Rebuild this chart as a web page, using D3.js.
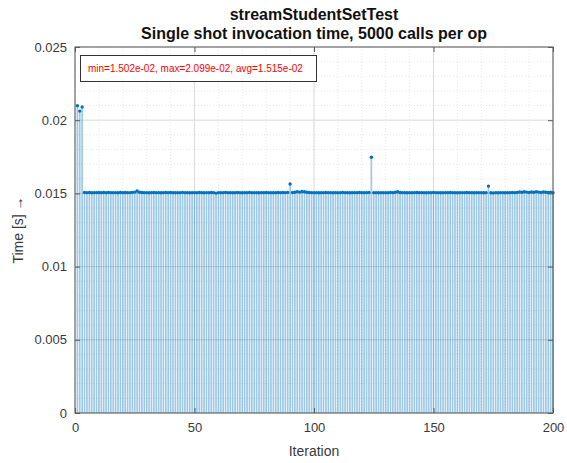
<!DOCTYPE html>
<html>
<head>
<meta charset="utf-8">
<script src="https://cdn.jsdelivr.net/npm/d3@7/dist/d3.min.js"></script>
<style>
  html, body { margin: 0; padding: 0; background: #ffffff; }
  svg { display: block; font-family: "Liberation Sans", Arial, Helvetica, sans-serif; }
</style>
</head>
<body>
<svg id="chart" width="567" height="463"></svg>
<script>
// Single shot invocation time per iteration (seconds), iterations 1..200
const iterations = d3.range(1, 201);
const times = [
  0.02099, 0.02062, 0.02091, 0.01506, 0.01505, 0.01506, 0.01504, 0.01505, 0.01505, 0.01506,
  0.01505, 0.01506, 0.01504, 0.01506, 0.01505, 0.01505, 0.01505, 0.01504, 0.01506, 0.01505,
  0.01506, 0.01505, 0.01505, 0.01507, 0.01509, 0.01516, 0.01508, 0.01506, 0.01505, 0.01505,
  0.01504, 0.01505, 0.01506, 0.01505, 0.01505, 0.01504, 0.01505, 0.01506, 0.01505, 0.01506,
  0.01505, 0.01504, 0.01505, 0.01505, 0.01506, 0.01505, 0.01505, 0.01504, 0.01505, 0.01505,
  0.01505, 0.01506, 0.01505, 0.01504, 0.01505, 0.01505, 0.01506, 0.01505, 0.01502, 0.01505,
  0.01505, 0.01505, 0.01506, 0.01505, 0.01505, 0.01504, 0.01505, 0.01506, 0.01505, 0.01504,
  0.01505, 0.01505, 0.01506, 0.01505, 0.01505, 0.01505, 0.01504, 0.01505, 0.01505, 0.01506,
  0.01505, 0.01505, 0.01504, 0.01505, 0.01506, 0.01505, 0.01506, 0.01505, 0.01507, 0.01564,
  0.01506, 0.01508, 0.01512, 0.01509, 0.01513, 0.01511, 0.01508, 0.01506, 0.01505, 0.01505,
  0.01505, 0.01504, 0.01505, 0.01505, 0.01506, 0.01505, 0.01505, 0.01504, 0.01505, 0.01505,
  0.01505, 0.01506, 0.01505, 0.01505, 0.01504, 0.01505, 0.01505, 0.01505, 0.01506, 0.01505,
  0.01505, 0.01505, 0.01507, 0.01747, 0.01505, 0.01505, 0.01504, 0.01505, 0.01505, 0.01505,
  0.01505, 0.01506, 0.01505, 0.01508, 0.01511, 0.01506, 0.01505, 0.01505, 0.01504, 0.01505,
  0.01505, 0.01505, 0.01506, 0.01505, 0.01505, 0.01505, 0.01504, 0.01505, 0.01505, 0.01506,
  0.01505, 0.01505, 0.01504, 0.01505, 0.01505, 0.01505, 0.01506, 0.01505, 0.01505, 0.01504,
  0.01505, 0.01505, 0.01505, 0.01506, 0.01505, 0.01505, 0.01504, 0.01505, 0.01505, 0.01505,
  0.01504, 0.01505, 0.01550, 0.01504, 0.01503, 0.01505, 0.01504, 0.01505, 0.01505, 0.01504,
  0.01505, 0.01505, 0.01506, 0.01505, 0.01507, 0.01510, 0.01508, 0.01511, 0.01509, 0.01507,
  0.01510, 0.01508, 0.01511, 0.01509, 0.01507, 0.01510, 0.01508, 0.01506, 0.01509, 0.01505
];

const xTicks = [0, 50, 100, 150, 200];
const yTicks = [0, 0.005, 0.01, 0.015, 0.02, 0.025];
const yTickLabels = ["0", "0.005", "0.01", "0.015", "0.02", "0.025"];
const xMinor = d3.range(0, 201, 10);
const yMinor = d3.range(0, 26).map(d => d / 1000);

const titleLines = ["streamStudentSetTest", "Single shot invocation time, 5000 calls per op"];
const statsText = "min=1.502e-02, max=2.099e-02, avg=1.515e-02";
const xLabel = "Iteration";
const yLabel = "Time [s] \u2192";

const svg = d3.select("#chart");
const plotL = 75, plotR = 553, plotT = 47, plotB = 413;

const x = d3.scaleLinear().domain([0, 200]).range([plotL, plotR]);
const y = d3.scaleLinear().domain([0, 0.025]).range([plotB, plotT]);

// minor grid (dotted, faint)
const grid = svg.append("g");
grid.append("g").selectAll("line").data(xMinor).join("line")
  .attr("x1", d => x(d)).attr("x2", d => x(d))
  .attr("y1", plotT).attr("y2", plotB)
  .attr("stroke", "#e8e8e8").attr("stroke-width", 1).attr("stroke-dasharray", "1,2");
grid.append("g").selectAll("line").data(yMinor).join("line")
  .attr("x1", plotL).attr("x2", plotR)
  .attr("y1", d => y(d)).attr("y2", d => y(d))
  .attr("stroke", "#e8e8e8").attr("stroke-width", 1).attr("stroke-dasharray", "1,2");
// major grid
grid.append("g").selectAll("line").data(xTicks).join("line")
  .attr("x1", d => x(d)).attr("x2", d => x(d))
  .attr("y1", plotT).attr("y2", plotB)
  .attr("stroke", "#dcdcdc").attr("stroke-width", 1);
grid.append("g").selectAll("line").data(yTicks).join("line")
  .attr("x1", plotL).attr("x2", plotR)
  .attr("y1", d => y(d)).attr("y2", d => y(d))
  .attr("stroke", "#dcdcdc").attr("stroke-width", 1);

// stems
const data = iterations.map((it, i) => ({ it, v: times[i] }));
svg.append("g").selectAll("line").data(data).join("line")
  .attr("x1", d => x(d.it)).attr("x2", d => x(d.it))
  .attr("y1", y(0)).attr("y2", d => y(d.v))
  .attr("stroke", "#0072BD").attr("stroke-opacity", 0.38).attr("stroke-width", 1.7);

// stem markers
svg.append("g").selectAll("circle").data(data).join("circle")
  .attr("cx", d => x(d.it)).attr("cy", d => y(d.v)).attr("r", 1.7)
  .attr("fill", "#0072BD");

// axes with inward ticks
const textColor = "#3a3a3a";
const axisColor = "#5a5a5a";
svg.append("g").attr("transform", `translate(0,${plotB})`)
  .call(d3.axisBottom(x).tickValues(xTicks).tickSize(-5).tickPadding(10).tickFormat(d3.format("d")));
svg.append("g").attr("transform", `translate(${plotL},0)`)
  .call(d3.axisLeft(y).tickValues(yTicks).tickSize(-5).tickPadding(8)
    .tickFormat((d, i) => yTickLabels[i]));
svg.append("g").attr("transform", `translate(0,${plotT})`)
  .call(d3.axisTop(x).tickValues(xTicks).tickSize(-5).tickFormat(""));
svg.append("g").attr("transform", `translate(${plotR},0)`)
  .call(d3.axisRight(y).tickValues(yTicks).tickSize(-5).tickFormat(""));
svg.selectAll(".domain").remove();
svg.selectAll(".tick line").attr("stroke", axisColor);
svg.selectAll(".tick text").attr("fill", textColor).style("font-size", "13px")
  .style("font-family", "'Liberation Sans', Arial, sans-serif");

// axes box
svg.append("rect").attr("x", plotL).attr("y", plotT)
  .attr("width", plotR - plotL).attr("height", plotB - plotT)
  .attr("fill", "none").attr("stroke", axisColor).attr("stroke-width", 1);

// titles
svg.append("g").selectAll("text").data(titleLines).join("text")
  .attr("x", (plotL + plotR) / 2).attr("y", (d, i) => 20 + i * 19)
  .attr("text-anchor", "middle").attr("font-weight", "bold")
  .attr("font-size", 16).attr("fill", "#111").text(d => d);

// axis labels
svg.append("text").attr("x", (plotL + plotR) / 2).attr("y", 456)
  .attr("text-anchor", "middle").attr("font-size", 14).attr("fill", textColor).text(xLabel);
svg.append("text").attr("transform", `translate(23,${(plotT + plotB) / 2}) rotate(-90)`)
  .attr("text-anchor", "middle").attr("font-size", 14).attr("fill", textColor).text(yLabel);

// statistics box
svg.append("rect").attr("x", 80.5).attr("y", 55.5).attr("width", 236).attr("height", 26)
  .attr("fill", "#fff").attr("stroke", "#333").attr("stroke-width", 1);
svg.append("text").attr("x", 88).attr("y", 72).attr("font-size", 10)
  .attr("fill", "#ff0000").text(statsText);
</script>
</body>
</html>
